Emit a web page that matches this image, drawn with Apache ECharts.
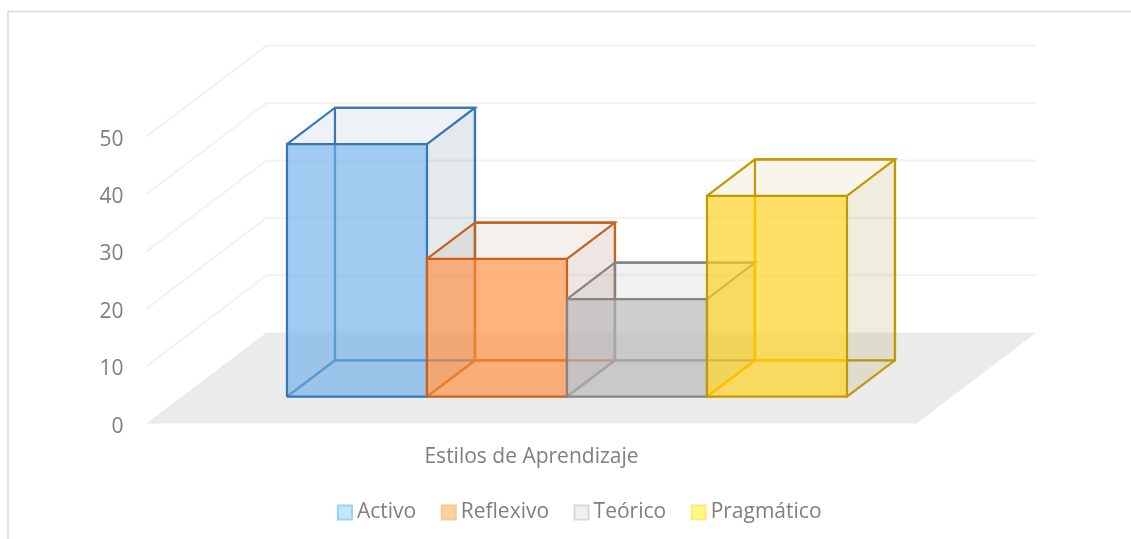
<!DOCTYPE html>
<html>
<head>
<meta charset="utf-8">
<style>html,body{margin:0;padding:0;background:#fff}#c{width:1131px;height:539px}</style>
<script src="https://cdn.jsdelivr.net/npm/echarts@6/dist/echarts.min.js"></script>
</head>
<body>
<div id="c"></div>
<script>
const categories = ['Estilos de Aprendizaje'];
const yTicks = [0, 10, 20, 30, 40, 50];
const activo = [44];
const reflexivo = [24];
const teorico = [17];
const pragmatico = [35];

const FONT = '"Open Sans", sans-serif';
const TXT = '#7f7f7f';
const DX = 120, DY = -91;      // full floor depth in pixels
const T0 = 0.2956, TD = 0.4;   // bar start and depth, as fractions of the floor depth
const BARS_PER_BAND = 5.5;     // 4 bars + 150% gap

const styles = [
  {name:'Activo', values:activo, line:'#3577b5', inner:'#5b9bd5', front:'rgba(115,176,233,.67)', top:'rgba(85,125,165,.1)', side:'rgba(75,108,142,.15)', swFill:'#bde8ff', swLine:'#a0cff7'},
  {name:'Reflexivo', values:reflexivo, line:'#c9611b', inner:'#ed7d31', front:'rgba(255,143,64,.67)', top:'rgba(165,105,75,.1)', side:'rgba(150,85,65,.15)', swFill:'#ffd39f', swLine:'#fbc78f'},
  {name:'Teórico', values:teorico, line:'#858585', inner:'#a5a5a5', front:'rgba(184,184,184,.67)', top:'rgba(120,120,120,.1)', side:'rgba(120,120,120,.15)', swFill:'#f0f0f0', swLine:'#d9d9d9'},
  {name:'Pragmático', values:pragmatico, line:'#c49800', inner:'#ffc000', front:'rgba(255,209,27,.67)', top:'rgba(185,155,50,.1)', side:'rgba(155,128,35,.15)', swFill:'#fff97f', swLine:'#ffe97f'}
];

function barRender(idx, st) {
  return function (params, api) {
    const c0 = api.coord([api.value(0), 0]);
    const cv = api.coord([api.value(0), api.value(1)]);
    const band = api.size([1, 0])[0];
    const w = band / BARS_PER_BAND;
    const x0 = c0[0] - 2 * w + idx * w + T0 * DX;
    const x1 = x0 + w;
    const yB = c0[1] + T0 * DY;
    const yT = cv[1] + T0 * DY;
    const ox = TD * DX, oy = TD * DY;
    const fl = [x0, yB], fr = [x1, yB], tl = [x0, yT], tr = [x1, yT];
    const p = q => [q[0] + ox, q[1] + oy];
    const line = (pts, col, lw) => ({type:'polyline', shape:{points:pts}, style:{fill:null, stroke:col, lineWidth:lw || 2.2, lineJoin:'miter'}});
    const face = (pts, fill) => ({type:'polygon', shape:{points:pts}, style:{fill:fill, stroke:null}});
    return {type:'group', children:[
      line([p(fl), p(tl), p(tr), p(fr), p(fl), fl], st.line),
      face([tl, p(tl), p(tr), tr], st.top),
      face([fr, tr, p(tr), p(fr)], st.side),
      face([fl, tl, tr, fr], st.front),
      line([[x0 + ox, yT], p(fl), [x1, yB + oy]], st.inner),
      line([fl, p(fl)], st.inner),
      line([tl, p(tl), p(tr), tr], st.line),
      line([p(tr), p(fr), fr], st.line),
      line([fl, tl, tr, fr, fl], st.line)
    ]};
  };
}

function floorRender(params, api) {
  const c = api.coord([0, api.value(1)]);
  const band = api.size([1, 0])[0];
  const l = c[0] - band / 2, r = c[0] + band / 2, y = c[1];
  if (api.value(1) === 0) {
    return {type:'polygon', shape:{points:[[l,y],[l+DX,y+DY],[r+DX,y+DY],[r,y]]}, style:{fill:'#ebebeb', stroke:null}};
  }
  return {type:'polyline', shape:{points:[[l,y],[l+DX,y+DY],[r+DX,y+DY]]}, style:{fill:null, stroke:'#f2f2f2', lineWidth:2}};
}

const series = [{
  type:'custom', name:'_walls', silent:true, clip:false, z:1,
  renderItem:floorRender, encode:{x:0,y:1},
  data:yTicks.map(v => [0, v])
}].concat(styles.map((st, i) => ({
  type:'custom', name:st.name, silent:true, clip:false, z:2 + i,
  renderItem:barRender(i, st), encode:{x:0,y:1},
  itemStyle:{color:st.swFill},
  data:st.values.map((v, k) => [k, v])
})));

const chart = echarts.init(document.getElementById('c'), null, {renderer:'canvas'});
chart.setOption({
  animation:false,
  backgroundColor:'#fff',
  textStyle:{fontFamily:FONT},
  grid:{left:146.5, right:214.5, top:136.6, bottom:115.4, containLabel:false},
  xAxis:{type:'category', data:categories, axisLine:{show:false}, axisTick:{show:false}, splitLine:{show:false},
    axisLabel:{color:TXT, fontSize:21, fontFamily:FONT, margin:23}},
  yAxis:{type:'value', min:0, max:50, interval:10, axisLine:{show:false}, axisTick:{show:false}, splitLine:{show:false},
    axisLabel:{color:TXT, fontSize:21, fontFamily:FONT, margin:23, verticalAlign:'top', lineHeight:6}},
  legend:{left:337, top:502, padding:0, icon:'rect', itemWidth:14, itemHeight:14, itemGap:24.5, selectedMode:false,
    textStyle:{color:TXT, fontSize:21, fontFamily:FONT},
    data:styles.map(st => ({name:st.name, itemStyle:{color:st.swFill, borderColor:st.swLine, borderWidth:2}}))},
  graphic:[{type:'rect', silent:true, z:-1, shape:{x:8, y:11.5, width:1300, height:700}, style:{fill:null, stroke:'#d9d9d9', lineWidth:1.5}}],
  series:series
});
</script>
</body>
</html>
